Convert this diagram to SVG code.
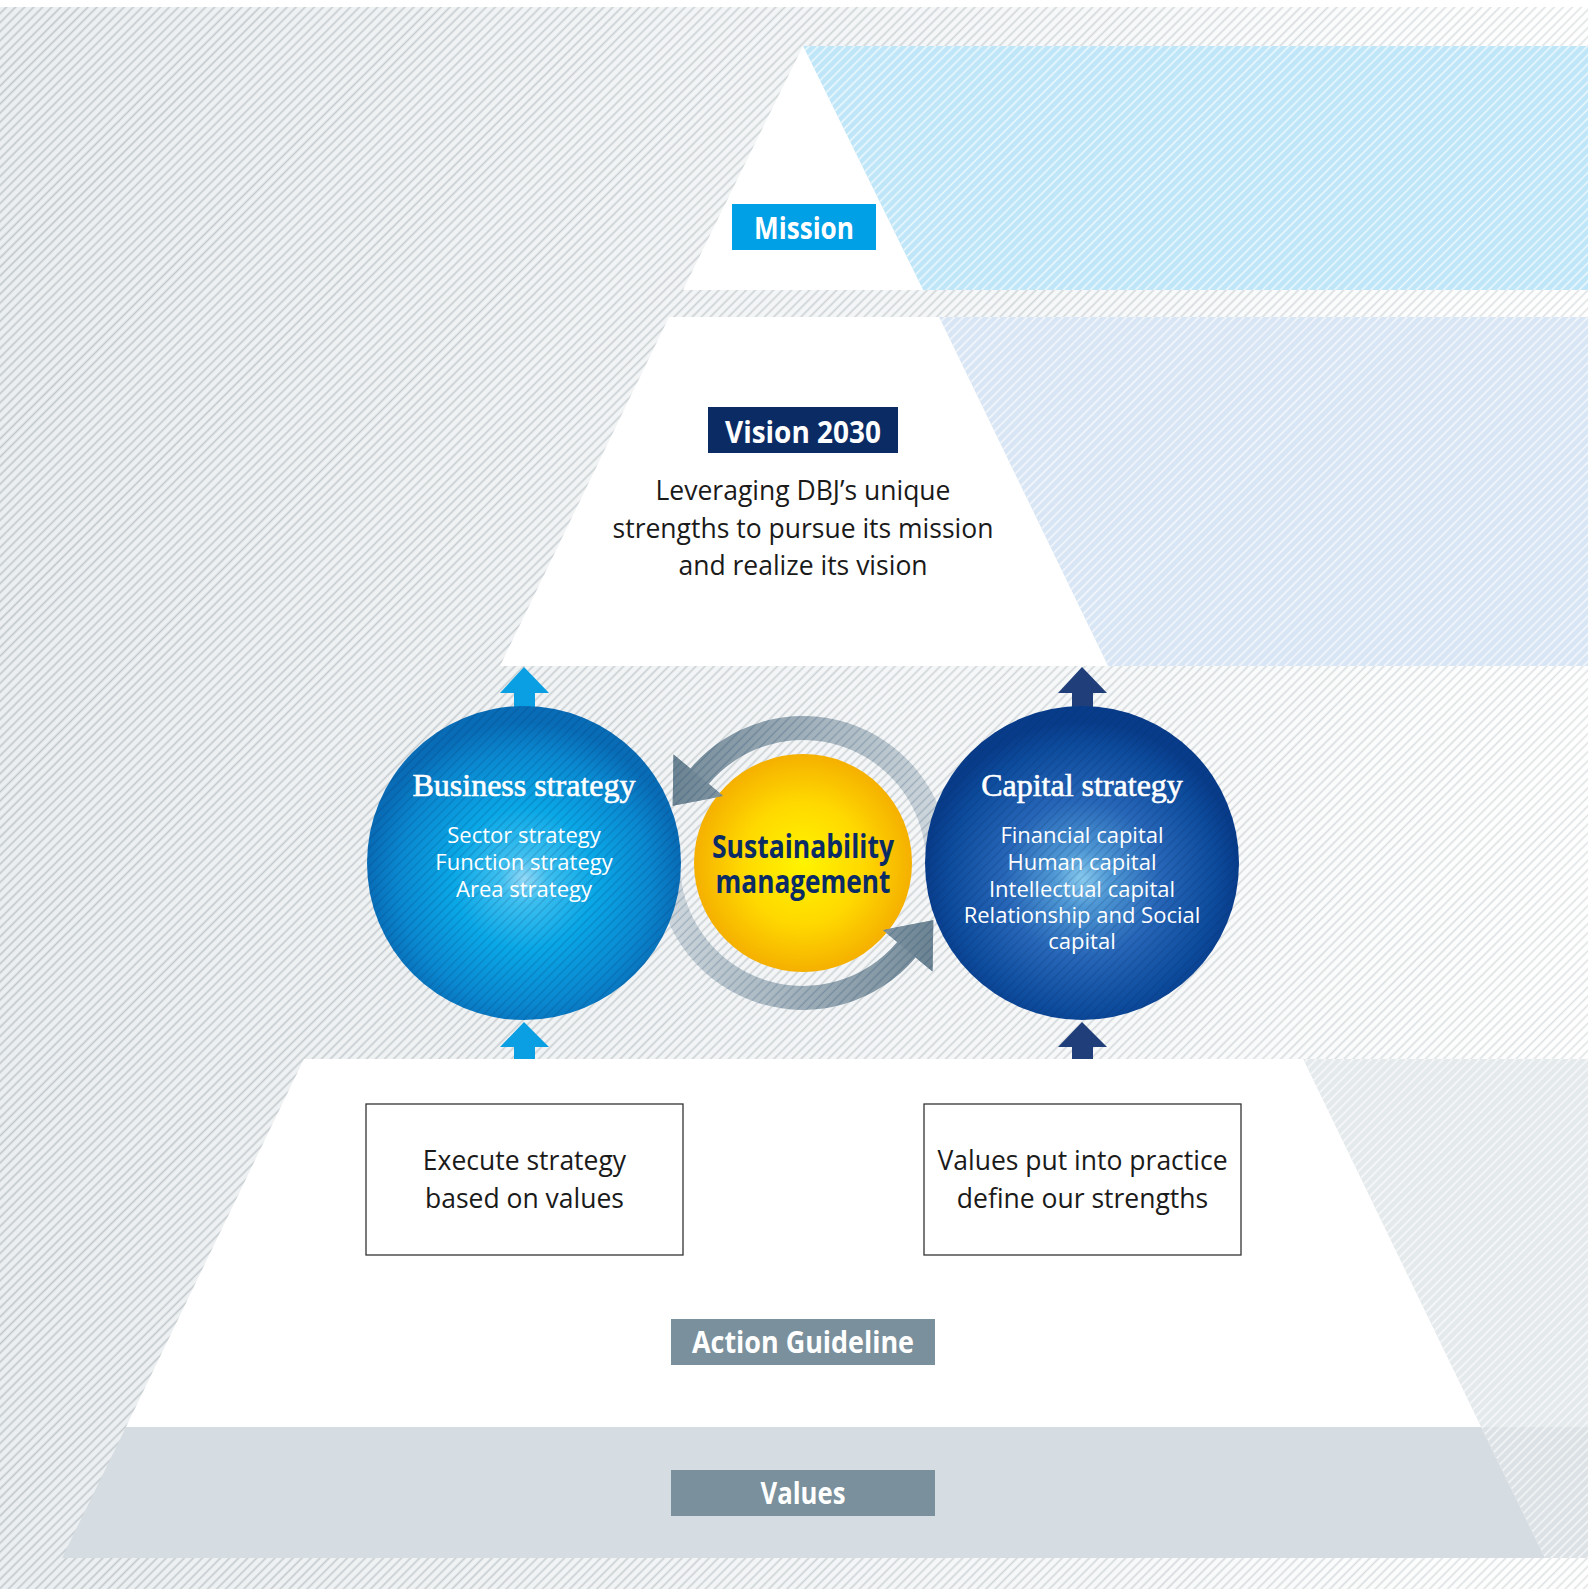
<svg xmlns="http://www.w3.org/2000/svg" xmlns:xlink="http://www.w3.org/1999/xlink" width="1588" height="1589" viewBox="0 0 1588 1589">
<defs>
<style>
.body{font-family:"Open Sans","Noto Sans","DejaVu Sans",sans-serif;}
.lbl{font-family:"Open Sans","Noto Sans","DejaVu Sans",sans-serif;font-weight:700;fill:#fff;text-anchor:middle;}
.ser{font-family:"Liberation Serif","DejaVu Serif",serif;fill:#fff;stroke:#fff;stroke-width:0.6;text-anchor:middle;font-size:32px;}
.item{font-family:"Open Sans","Noto Sans","DejaVu Sans",sans-serif;fill:#fff;text-anchor:middle;font-size:22px;}
.dark{fill:#1a1a1a;text-anchor:middle;font-size:26.5px;}
.box{fill:#fff;stroke:#333;stroke-width:1.3;}
</style>
<pattern id="hg" width="6.4" height="6.4" patternUnits="userSpaceOnUse" patternTransform="rotate(45)"><line x1="3.2" y1="-1" x2="3.2" y2="8" stroke="#bfc5c9" stroke-width="1.6"/></pattern>
<pattern id="hw" width="6.4" height="6.4" patternUnits="userSpaceOnUse" patternTransform="rotate(45)"><line x1="3.2" y1="-1" x2="3.2" y2="8" stroke="#ffffff" stroke-width="1.5" stroke-opacity="0.75"/></pattern>
<pattern id="hd" width="6.4" height="6.4" patternUnits="userSpaceOnUse" patternTransform="rotate(45)"><line x1="3.2" y1="-1" x2="3.2" y2="8" stroke="#002a5c" stroke-width="1.3" stroke-opacity="0.2"/></pattern>
<linearGradient id="bgG" x1="0" y1="0" x2="1" y2="0"><stop offset="0" stop-color="#eceff1"/><stop offset="0.55" stop-color="#f4f6f7"/><stop offset="1" stop-color="#ffffff"/></linearGradient>
<linearGradient id="mG" x1="0" y1="0" x2="1" y2="0"><stop offset="0" stop-color="#fff"/><stop offset="1" stop-color="#fff" stop-opacity="0.5"/></linearGradient>
<mask id="fade"><rect width="1588" height="1589" fill="url(#mG)"/></mask>
<radialGradient id="bizG" cx="0.5" cy="0.55" r="0.5"><stop offset="0" stop-color="#92d9f7"/><stop offset="0.15" stop-color="#3ec0f0"/><stop offset="0.45" stop-color="#0aa8e7"/><stop offset="0.8" stop-color="#0a88d0"/><stop offset="1" stop-color="#086cb6"/></radialGradient>
<radialGradient id="capG" cx="0.5" cy="0.55" r="0.5"><stop offset="0" stop-color="#88caef"/><stop offset="0.18" stop-color="#4f98d5"/><stop offset="0.5" stop-color="#2766b8"/><stop offset="0.85" stop-color="#0d4b9d"/><stop offset="1" stop-color="#083c8a"/></radialGradient>
<radialGradient id="susG" cx="0.5" cy="0.5" r="0.5"><stop offset="0" stop-color="#fff400"/><stop offset="0.55" stop-color="#ffd900"/><stop offset="1" stop-color="#f5b000"/></radialGradient>
<linearGradient id="ringG" gradientUnits="userSpaceOnUse" x1="950" y1="860" x2="672" y2="790"><stop offset="0" stop-color="#d3dbe0"/><stop offset="0.5" stop-color="#a5b4be"/><stop offset="1" stop-color="#6b8392"/></linearGradient>
<path id="ring" d="M 949.4 850.2 A 147 147 0 0 0 690.4 768.5 L 673.5 754.4 L 672.7 805.8 L 723.3 796.1 L 708.8 783.9 A 123 123 0 0 1 925.5 852.3 Z"/>
<path id="head" d="M 690.4 768.5 L 673.5 754.4 L 672.7 805.8 L 723.3 796.1 L 708.8 783.9 Z"/>
</defs>

<g id="background">
<rect width="1588" height="1589" fill="url(#bgG)"/>
<rect width="1588" height="1589" fill="url(#hg)" mask="url(#fade)"/>
<rect width="1588" height="7" fill="#fff"/>
<polygon points="803,46 1588,46 1588,290 923,290" fill="#bee6f8"/>
<polygon points="803,46 1588,46 1588,290 923,290" fill="url(#hw)"/>
<polygon points="939,317 1588,317 1588,666 1108,666" fill="#d8e5f4"/>
<polygon points="939,317 1588,317 1588,666 1108,666" fill="url(#hw)"/>
<polygon points="1303,1059 1588,1059 1588,1427 1481,1427" fill="#e4e9ec"/>
<polygon points="1303,1059 1588,1059 1588,1427 1481,1427" fill="url(#hw)"/>
<polygon points="1481,1427 1588,1427 1588,1558 1545,1558" fill="#dbe1e5"/>
<polygon points="1481,1427 1588,1427 1588,1558 1545,1558" fill="url(#hw)"/>
</g>

<g id="pyramid">
<polygon points="803,46 923,290 683,290" fill="#fff"/>
<polygon points="669,317 939,317 1108,666 500,666" fill="#fff"/>
<polygon points="304,1059 1303,1059 1481,1427 126,1427" fill="#fff"/>
<polygon points="126,1427 1481,1427 1545,1558 62,1558" fill="#d5dde3"/>
</g>

<g id="mission">
<rect x="732" y="204" width="144" height="46" fill="#00a0e6"/>
<text class="lbl" x="804" y="239" font-size="31" textLength="100" lengthAdjust="spacingAndGlyphs">Mission</text>
</g>

<g id="vision">
<rect x="708" y="407" width="190" height="46" fill="#0b2b65"/>
<text class="lbl" x="803" y="443" font-size="31" textLength="156" lengthAdjust="spacingAndGlyphs">Vision 2030</text>
<text class="body dark" x="803" y="500" font-size="26">Leveraging DBJ’s unique</text>
<text class="body dark" x="803" y="537.5" font-size="26">strengths to pursue its mission</text>
<text class="body dark" x="803" y="575" font-size="26">and realize its vision</text>
</g>

<g id="connectors">
<polygon points="524,667 549,693 535,693 535,712 514,712 514,693 500,693" fill="#0a9fe3"/>
<polygon points="524,1022 549,1047 535,1047 535,1059 514,1059 514,1047 500,1047" fill="#0a9fe3"/>
<polygon points="1082,667 1107,693 1093,693 1093,712 1072,712 1072,693 1058,693" fill="#1f3e7a"/>
<polygon points="1082,1022 1107,1047 1093,1047 1093,1059 1072,1059 1072,1047 1058,1047" fill="#1f3e7a"/>
<use xlink:href="#ring" fill="url(#ringG)" opacity="0.92"/>
<use xlink:href="#ring" fill="url(#hd)"/>
<use xlink:href="#ring" fill="url(#ringG)" opacity="0.92" transform="rotate(180 803 863)"/>
<use xlink:href="#ring" fill="url(#hd)" transform="rotate(180 803 863)"/>
</g>

<g id="business">
<circle cx="524" cy="863" r="157" fill="url(#bizG)"/>
<circle cx="524" cy="863" r="157" fill="url(#hd)"/>
<text class="ser" x="524" y="796">Business strategy</text>
<text class="item" x="524" y="843">Sector strategy</text>
<text class="item" x="524" y="870">Function strategy</text>
<text class="item" x="524" y="897">Area strategy</text>
</g>

<g id="capital">
<circle cx="1082" cy="863" r="157" fill="url(#capG)"/>
<circle cx="1082" cy="863" r="157" fill="url(#hd)"/>
<text class="ser" x="1082" y="796">Capital strategy</text>
<text class="item" x="1082" y="843">Financial capital</text>
<text class="item" x="1082" y="870">Human capital</text>
<text class="item" x="1082" y="897">Intellectual capital</text>
<text class="item" x="1082" y="923">Relationship and Social</text>
<text class="item" x="1082" y="949">capital</text>
</g>

<g id="sustainability">
<circle cx="803" cy="863" r="109" fill="url(#susG)"/>
<text class="lbl" x="803" y="858" font-size="32" style="fill:#0b2b65" textLength="182" lengthAdjust="spacingAndGlyphs">Sustainability</text>
<text class="lbl" x="803" y="893" font-size="32" style="fill:#0b2b65" textLength="175" lengthAdjust="spacingAndGlyphs">management</text>
</g>

<g id="connector-heads">
<use xlink:href="#head" fill="url(#ringG)" opacity="0.92"/>
<use xlink:href="#head" fill="url(#hd)"/>
<use xlink:href="#head" fill="url(#ringG)" opacity="0.92" transform="rotate(180 803 863)"/>
<use xlink:href="#head" fill="url(#hd)" transform="rotate(180 803 863)"/>
</g>

<g id="box-left">
<rect class="box" x="366" y="1104" width="317" height="151"/>
<text class="body dark" x="524.5" y="1170">Execute strategy</text>
<text class="body dark" x="524.5" y="1208">based on values</text>
</g>

<g id="box-right">
<rect class="box" x="924" y="1104" width="317" height="151"/>
<text class="body dark" x="1082.5" y="1170">Values put into practice</text>
<text class="body dark" x="1082.5" y="1208">define our strengths</text>
</g>

<g id="action">
<rect x="671" y="1319" width="264" height="46" fill="#7a909c"/>
<text class="lbl" x="803" y="1353" font-size="30" textLength="222" lengthAdjust="spacingAndGlyphs">Action Guideline</text>
</g>

<g id="values">
<rect x="671" y="1470" width="264" height="46" fill="#7a909c"/>
<text class="lbl" x="803" y="1504" font-size="30" textLength="85" lengthAdjust="spacingAndGlyphs">Values</text>
</g>
</svg>
